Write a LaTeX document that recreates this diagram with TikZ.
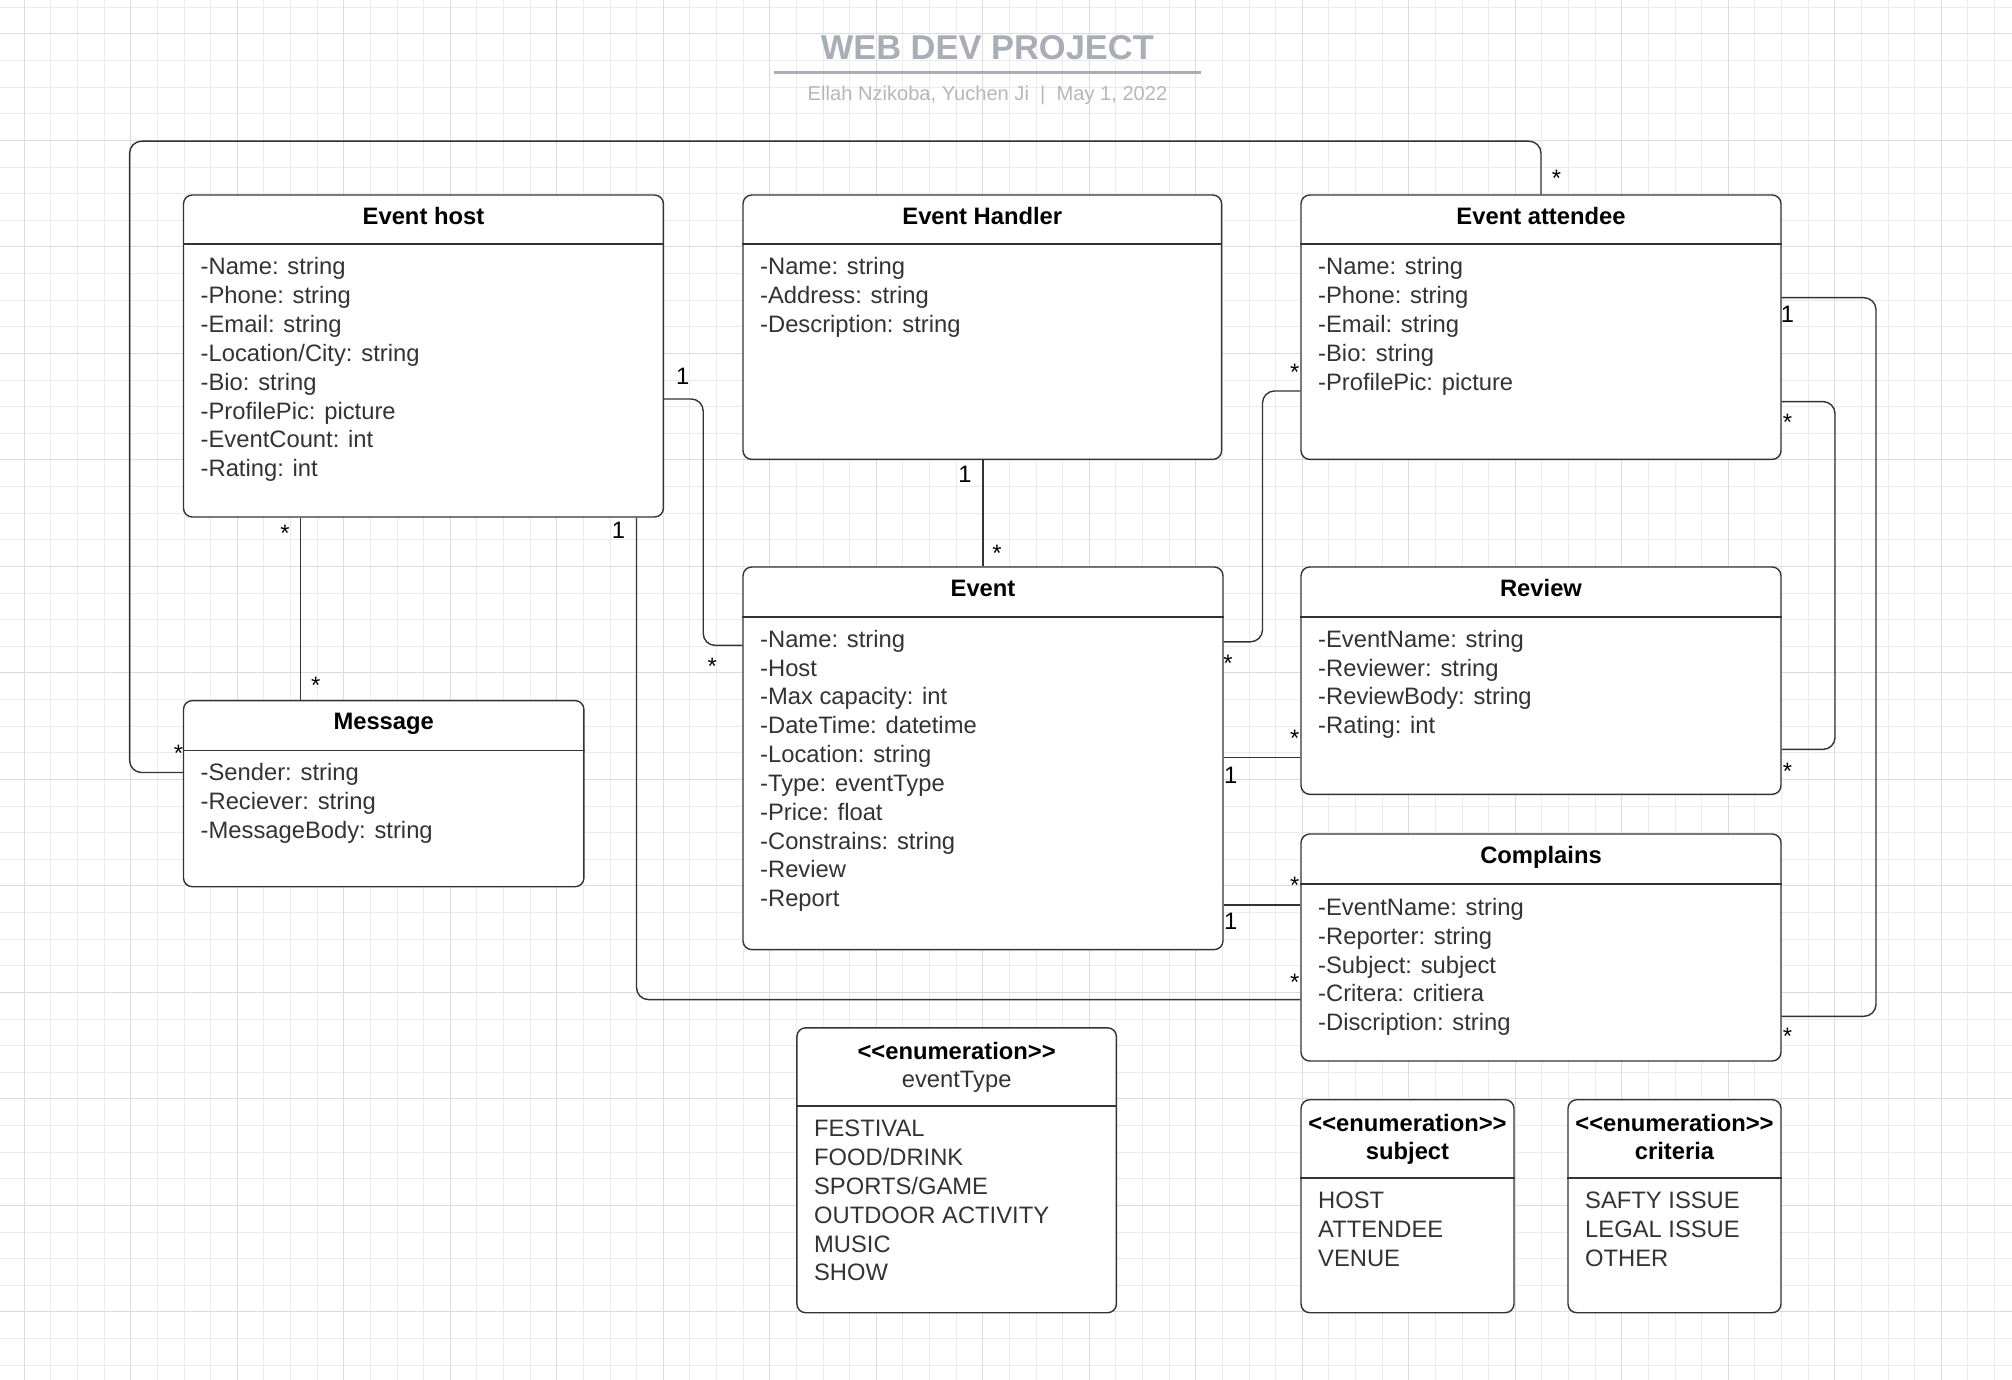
\documentclass[tikz,border=0pt]{standalone}
\usepackage{fontspec}
\setmainfont{Liberation Sans}
\usetikzlibrary{fit}

\definecolor{gridminor}{HTML}{EBEBEB}
\definecolor{gridmajor}{HTML}{DCDCDC}
\definecolor{titlegray}{HTML}{A9ADB5}
\definecolor{subgray}{HTML}{B4B7BE}
\definecolor{linegray}{HTML}{333333}
\definecolor{textgray}{HTML}{333333}

\begin{document}
\begin{tikzpicture}[
            x = 0.025cm, y = -0.025cm, % one unit is one pixel, y goes down
            line width = 1pt,
            classbox/.style = {draw=linegray, fill=white, rounded corners=2.2mm, inner sep=0pt},
            classname/.style = {font=\fontsize{16.9}{20.5}\selectfont\bfseries, anchor=base, inner sep=0pt},
            plainname/.style = {font=\fontsize{16.9}{20.5}\selectfont, text=textgray, anchor=base, inner sep=0pt},
            attrs/.style = {font=\fontsize{16.9}{20.5}\selectfont, text=textgray, align=left, anchor=north west, inner sep=0pt},
            mult/.style = {font=\fontsize{16.9}{20.5}\selectfont, anchor=base, inner sep=0pt},
            assoc/.style = {draw=linegray, rounded corners=3mm}
        ]
\useasboundingbox (0,0) rectangle (2012,1380);
\fill[white] (0,0) rectangle (2012,1380);

% grid
\foreach \k in {0,...,74}
  \draw[gridminor, line width=0.7pt] ({24.3+26.625*\k},0) -- ({24.3+26.625*\k},1380);
\foreach \k in {0,...,51}
  \draw[gridminor, line width=0.7pt] (0,{7.3+26.625*\k}) -- (2012,{7.3+26.625*\k});
\foreach \k in {0,4,...,72}
  \draw[gridmajor, line width=0.7pt] ({24.3+26.625*\k},0) -- ({24.3+26.625*\k},1380);
\foreach \k in {1,5,...,49}
  \draw[gridmajor, line width=0.7pt] (0,{7.3+26.625*\k}) -- (2012,{7.3+26.625*\k});

% title
\node[font=\fontsize{24.5}{28}\selectfont\bfseries, text=titlegray, anchor=base, inner sep=0pt] (title) at (987.3,59.5) {WEB DEV PROJECT};
\draw[titlegray, line width=1.8pt] (773.9,72.5) -- (1200.6,72.5);
\node[font=\fontsize{14.3}{17}\selectfont, text=subgray, anchor=base, inner sep=0pt] (subtitle) at (987.5,100) {Ellah Nzikoba, Yuchen Ji~~|~~May 1, 2022};

% classes
\node[classbox, fit={(183.5,195) (663.4,517)}] (host) {};
\draw[linegray] (host.west |- 0,243.8) -- (host.east |- 0,243.8);
\node[classname] (hostname) at (host.north |- 0,224) {Event host};
\node[attrs] (hostattrs) at (200,257) {-Name: string\\-Phone: string\\-Email: string\\-Location/City: string\\-Bio: string\\-ProfilePic: picture\\-EventCount: int\\-Rating: int};

\node[classbox, fit={(743,195) (1221.6,459.4)}] (handler) {};
\draw[linegray] (handler.west |- 0,243.8) -- (handler.east |- 0,243.8);
\node[classname] (handlername) at (handler.north |- 0,224) {Event Handler};
\node[attrs] (handlerattrs) at (759.5,257) {-Name: string\\-Address: string\\-Description: string};

\node[classbox, fit={(1301,195) (1781,459.4)}] (attendee) {};
\draw[linegray] (attendee.west |- 0,243.8) -- (attendee.east |- 0,243.8);
\node[classname] (attendeename) at (attendee.north |- 0,224) {Event attendee};
\node[attrs] (attendeeattrs) at (1317.5,257) {-Name: string\\-Phone: string\\-Email: string\\-Bio: string\\-ProfilePic: picture};

\node[classbox, fit={(743,567) (1223,949.6)}] (event) {};
\draw[linegray] (event.west |- 0,617) -- (event.east |- 0,617);
\node[classname] (eventname) at (event.north |- 0,596.5) {Event};
\node[attrs] (eventattrs) at (759.5,629.3) {-Name: string\\-Host\\-Max capacity: int\\-DateTime: datetime\\-Location: string\\-Type: eventType\\-Price: float\\-Constrains: string\\-Review\\-Report};

\node[classbox, fit={(1301,567) (1781,794.3)}] (review) {};
\draw[linegray] (review.west |- 0,617) -- (review.east |- 0,617);
\node[classname] (reviewname) at (review.north |- 0,596.5) {Review};
\node[attrs] (reviewattrs) at (1317.5,629.3) {-EventName: string\\-Reviewer: string\\-ReviewBody: string\\-Rating: int};

\node[classbox, fit={(1301,834) (1781,1061)}] (complains) {};
\draw[linegray] (complains.west |- 0,884) -- (complains.east |- 0,884);
\node[classname] (complainsname) at (complains.north |- 0,863) {Complains};
\node[attrs] (complainsattrs) at (1317.5,897.5) {-EventName: string\\-Reporter: string\\-Subject: subject\\-Critera: critiera\\-Discription: string};

\node[classbox, fit={(183.5,700.6) (583.9,886.7)}] (msg) {};
\draw[linegray] (msg.west |- 0,750.7) -- (msg.east |- 0,750.7);
\node[classname] (msgname) at (msg.north |- 0,729.7) {Message};
\node[attrs] (msgattrs) at (200,762.7) {-Sender: string\\-Reciever: string\\-MessageBody: string};

% enumerations
\node[classbox, fit={(796.9,1027.8) (1116.4,1312.7)}] (type) {};
\draw[linegray] (type.west |- 0,1106) -- (type.east |- 0,1106);
\node[classname] (typestereo) at (type.north |- 0,1059.5) {\mbox{<}\mbox{<}enumeration\mbox{>}\mbox{>}};
\node[plainname] (typename) at (type.north |- 0,1087.5) {eventType};
\node[attrs] (typeitems) at (813.4,1119.5) {FESTIVAL\\FOOD/DRINK\\SPORTS/GAME\\OUTDOOR ACTIVITY\\MUSIC\\SHOW};

\node[classbox, fit={(1301,1099.7) (1514,1312.7)}] (subject) {};
\draw[linegray] (subject.west |- 0,1178) -- (subject.east |- 0,1178);
\node[classname] (subjectstereo) at (subject.north |- 0,1131) {\mbox{<}\mbox{<}enumeration\mbox{>}\mbox{>}};
\node[classname] (subjectname) at (subject.north |- 0,1159.5) {subject};
\node[attrs] (subjectitems) at (1317.5,1191.5) {HOST\\ATTENDEE\\VENUE};

\node[classbox, fit={(1568,1099.7) (1781,1312.7)}] (criteria) {};
\draw[linegray] (criteria.west |- 0,1178) -- (criteria.east |- 0,1178);
\node[classname] (criteriastereo) at (criteria.north |- 0,1131) {\mbox{<}\mbox{<}enumeration\mbox{>}\mbox{>}};
\node[classname] (criterianame) at (criteria.north |- 0,1159.5) {criteria};
\node[attrs] (criteriaitems) at (1584.5,1191.5) {SAFTY ISSUE\\LEGAL ISSUE\\OTHER};

% associations
\path[assoc] (host.south -| 300.3,0) -- (msg.north -| 300.3,0);
\path[assoc] (msg.west |- 0,772.5) -| (129.6,141.2) -| (attendee.north -| 1541,0);
\path[assoc] (host.east |- 0,399) -| (703.2,645.4) -- (event.west |- 0,645.4);
\path[assoc] (host.south -| 636.5,0) |- (complains.west |- 0,999.6);
\path[assoc] (handler.south -| 983,0) -- (event.north -| 983,0);
\path[assoc] (event.east |- 0,641.8) -| (1262.5,391) -- (attendee.west |- 0,391);
\path[assoc] (event.east |- 0,757.5) -- (review.west |- 0,757.5);
\path[assoc] (event.east |- 0,904.8) -- (complains.west |- 0,904.8);
\path[assoc] (attendee.east |- 0,401.6) -| (1835,749.4) -- (review.east |- 0,749.4);
\path[assoc] (attendee.east |- 0,297.7) -| (1876,1016.3) -- (complains.east |- 0,1016.3);

% multiplicities
\node[mult] (hostmsgA) at (284.9,541) {*};
\node[mult] (hostmsgB) at (315.7,693.6) {*};
\node[mult] (loopA) at (178.4,761.5) {*};
\node[mult] (loopB) at (1556.5,186.7) {*};
\node[mult] (hosteventA) at (682.7,384.5) {1};
\node[mult] (hosteventB) at (712.2,674.4) {*};
\node[mult] (hostcompA) at (618.5,538.5) {1};
\node[mult] (hostcompB) at (1294.8,990) {*};
\node[mult] (handlereventA) at (965,482) {1};
\node[mult] (handlereventB) at (997,561.5) {*};
\node[mult] (eventattA) at (1228,671.5) {*};
\node[mult] (eventattB) at (1294.8,380.5) {*};
\node[mult] (eventrevA) at (1230.6,783.5) {1};
\node[mult] (eventrevB) at (1294.8,746.2) {*};
\node[mult] (eventcompA) at (1230.6,929.8) {1};
\node[mult] (eventcompB) at (1294.8,893.8) {*};
\node[mult] (attrevA) at (1787.5,430.5) {*};
\node[mult] (attrevB) at (1787.5,779.5) {*};
\node[mult] (attcompA) at (1787.5,322.5) {1};
\node[mult] (attcompB) at (1787.5,1044) {*};
\end{tikzpicture}
\end{document}
